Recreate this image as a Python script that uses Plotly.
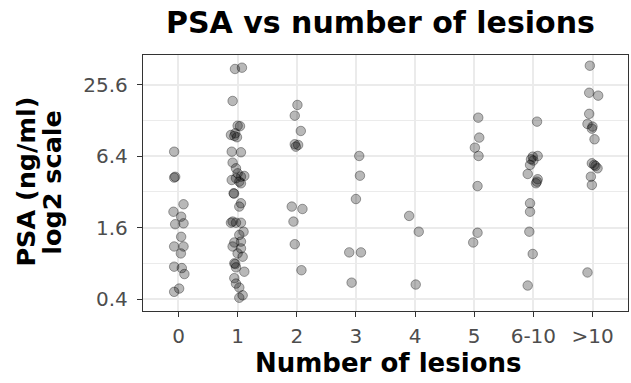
import math
import plotly.graph_objects as go

# ---- data ----
categories = ["0", "1", "2", "3", "4", "5", "6-10", ">10"]
y_tick_vals = [0.4, 1.6, 6.4, 25.6]
y_tick_text = ["0.4", "1.6", "6.4", "25.6"]
y_minor_vals = [0.8, 3.2, 12.8]

psa_0 = [7.00, 4.23, 4.30, 2.52, 2.18, 1.98, 1.74, 1.71, 1.34, 1.11, 1.11, 0.97, 0.75, 0.73, 0.65, 0.46, 0.49]
jit_0 = [-0.073, -0.073, -0.056, 0.085, -0.085, 0.045, 0.085, -0.056, 0.045, 0.085, -0.073, 0.040, -0.073, 0.056, 0.100, -0.073, 0.011]

psa_1 = [34.9, 35.8, 18.75, 11.5, 11.6, 10.0, 9.69, 9.50, 9.27, 7.00, 6.92, 5.66, 5.07, 4.60, 4.31, 4.37,
         4.18, 4.04, 3.91, 3.79, 3.12, 3.10, 2.57, 2.41, 1.80, 1.76, 1.76, 1.76, 1.48, 1.39, 1.22, 1.20,
         1.11, 1.07, 0.97, 0.91, 0.80, 0.79, 0.74, 0.68, 0.60, 0.54, 0.50, 0.43, 0.41]
jit_1 = [-0.045, 0.073, -0.085, 0.040, 0.000, -0.040, -0.113, -0.056, -0.011, -0.100, 0.056, -0.085, -0.028, 0.000, 0.056, 0.113,
         -0.028, -0.100, 0.028, 0.056, -0.068, -0.060, 0.056, 0.028, -0.085, -0.028, 0.056, -0.113, 0.100, 0.028, 0.056, -0.056,
         -0.085, 0.056, 0.000, 0.085, -0.056, -0.040, -0.028, 0.113, -0.056, -0.028, 0.028, 0.085, 0.028]

psa_2 = [17.35, 14.1, 10.47, 8.09, 7.98, 7.72, 2.41, 2.30, 1.80, 1.16, 0.70]
jit_2 = [0.011, -0.034, 0.068, -0.034, 0.023, -0.017, -0.085, 0.096, -0.056, -0.034, 0.079]

psa_3 = [6.44, 4.39, 2.79, 0.99, 0.99, 0.55]
jit_3 = [0.056, 0.068, 0.000, -0.113, 0.085, -0.073]

psa_4 = [2.01, 1.48, 0.53]
jit_4 = [-0.100, 0.062, 0.011]

psa_5 = [13.56, 9.20, 7.57, 6.44, 3.59, 1.45, 1.20]
jit_5 = [0.068, 0.085, 0.011, 0.073, 0.056, 0.056, -0.017]

psa_6_10 = [12.55, 6.36, 6.44, 6.04, 5.90, 5.41, 4.54, 4.10, 3.91, 3.79, 2.57, 2.18, 1.48, 0.96, 0.52]
jit_6_10 = [0.062, -0.011, 0.073, -0.040, 0.000, -0.056, -0.096, 0.073, 0.060, 0.045, -0.056, -0.056, -0.068, -0.011, -0.096]

psa_gt10 = [37.2, 22.0, 20.8, 14.6, 12.0, 11.4, 10.95, 8.91, 5.59, 5.41, 5.30, 5.07, 4.31, 3.67, 0.67]
jit_gt10 = [-0.045, -0.056, 0.096, -0.056, -0.085, 0.000, -0.011, 0.034, -0.011, 0.028, 0.050, 0.085, -0.028, -0.011, -0.085]

y_limits = [0.317, 45.8]

groups = [psa_0, psa_1, psa_2, psa_3, psa_4, psa_5, psa_6_10, psa_gt10]
jitters = [jit_0, jit_1, jit_2, jit_3, jit_4, jit_5, jit_6_10, jit_gt10]

xs, ys = [], []
for i, (vals, jit) in enumerate(zip(groups, jitters)):
    for v, j in zip(vals, jit):
        xs.append(i + j)
        ys.append(v)

FONT = "DejaVu Sans"

fig = go.Figure()
fig.add_trace(go.Scatter(
    x=xs, y=ys, mode="markers",
    marker=dict(size=9.5, color="rgba(0,0,0,0.28)",
                line=dict(color="rgba(0,0,0,0.35)", width=1)),
    hoverinfo="skip", showlegend=False,
))

fig.update_layout(
    width=631, height=383,
    margin=dict(l=143, r=3, t=55, b=72),
    paper_bgcolor="white", plot_bgcolor="white",
    font=dict(family=FONT, color="#4d4d4d"),
    showlegend=False,
)

fig.update_xaxes(
    range=[-0.6, len(categories) - 0.4],
    tickmode="array", tickvals=list(range(len(categories))), ticktext=categories,
    tickfont=dict(size=20, color="#4d4d4d", family=FONT),
    ticks="outside", ticklen=5, tickcolor="#333333", tickwidth=1.2,
    ticklabelstandoff=2,
    showgrid=True, gridcolor="#ebebeb", gridwidth=1.5,
    showline=True, mirror=True, linecolor="#333333", linewidth=1.3,
    zeroline=False,
)

fig.update_yaxes(
    type="log",
    range=[math.log10(y_limits[0]), math.log10(y_limits[1])],
    tickmode="array", tickvals=y_tick_vals, ticktext=y_tick_text,
    tickfont=dict(size=20, color="#4d4d4d", family=FONT),
    ticks="outside", ticklen=5, tickcolor="#333333", tickwidth=1.2,
    ticklabelstandoff=5,
    showgrid=True, gridcolor="#ebebeb", gridwidth=1.5,
    minor=dict(tickmode="array", tickvals=y_minor_vals, showgrid=True,
               gridcolor="#ebebeb", gridwidth=0.8, ticks=""),
    showline=True, mirror=True, linecolor="#333333", linewidth=1.3,
    zeroline=False,
)

annots = [
    dict(text="PSA vs number of lesions", x=0.4907, y=1.127, xanchor="center", yanchor="middle",
         font=dict(size=30, weight="bold", color="black", family=FONT)),
    dict(text="PSA (ng/ml)", x=-0.2420, y=0.504, textangle=-90, xanchor="center", yanchor="middle",
         font=dict(size=25.5, weight="bold", color="black", family=FONT)),
    dict(text="log2 scale", x=-0.1880, y=0.504, textangle=-90, xanchor="center", yanchor="middle",
         font=dict(size=25.5, weight="bold", color="black", family=FONT)),
    dict(text="Number of lesions", x=0.5052, y=-0.203, xanchor="center", yanchor="middle",
         font=dict(size=26, weight="bold", color="black", family=FONT)),
]
for a in annots:
    a.update(xref="paper", yref="paper", showarrow=False)
    fig.add_annotation(**a)

fig.write_html("out.html")
